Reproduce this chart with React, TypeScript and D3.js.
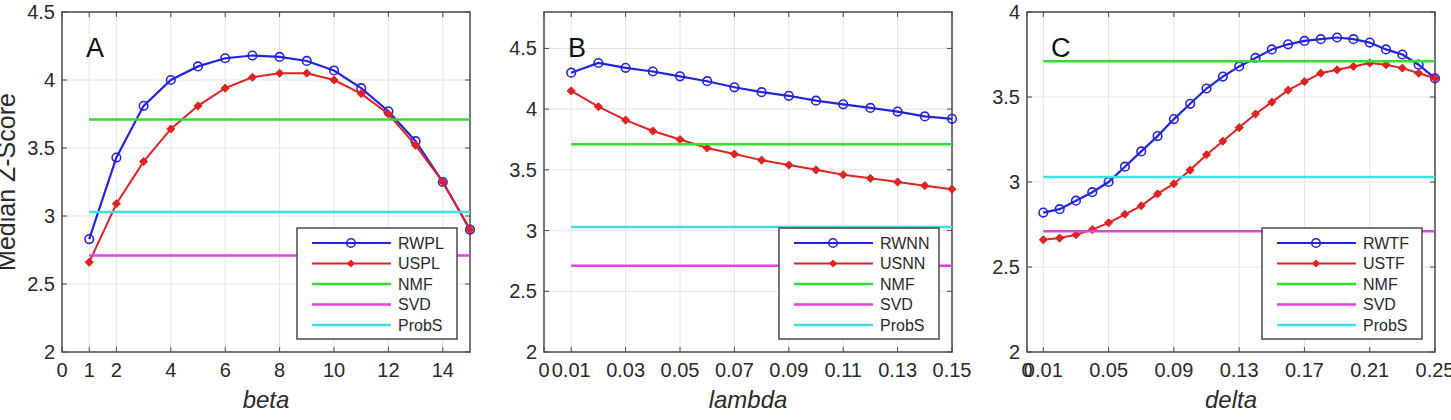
import * as d3 from "d3";

// values
const betaX = [1, 2, 3, 4, 5, 6, 7, 8, 9, 10, 11, 12, 13, 14, 15];
const rwpl = [2.83, 3.43, 3.81, 4.0, 4.1, 4.16, 4.18, 4.17, 4.14, 4.07, 3.94, 3.77, 3.55, 3.25, 2.9];
const uspl = [2.66, 3.09, 3.4, 3.64, 3.81, 3.94, 4.02, 4.05, 4.05, 4.0, 3.9, 3.75, 3.52, 3.25, 2.9];

const lambdaX = [0.01, 0.02, 0.03, 0.04, 0.05, 0.06, 0.07, 0.08, 0.09, 0.1, 0.11, 0.12, 0.13, 0.14, 0.15];
const rwnn = [4.3, 4.38, 4.34, 4.31, 4.27, 4.23, 4.18, 4.14, 4.11, 4.07, 4.04, 4.01, 3.98, 3.94, 3.92];
const usnn = [4.15, 4.02, 3.91, 3.82, 3.75, 3.68, 3.63, 3.58, 3.54, 3.5, 3.46, 3.43, 3.4, 3.37, 3.34];

const deltaX = [0.01, 0.02, 0.03, 0.04, 0.05, 0.06, 0.07, 0.08, 0.09, 0.1, 0.11, 0.12, 0.13,
  0.14, 0.15, 0.16, 0.17, 0.18, 0.19, 0.2, 0.21, 0.22, 0.23, 0.24, 0.25];
const rwtf = [2.82, 2.84, 2.89, 2.94, 3.0, 3.09, 3.18, 3.27, 3.37, 3.46, 3.55, 3.62, 3.68,
  3.73, 3.78, 3.81, 3.83, 3.84, 3.85, 3.84, 3.82, 3.78, 3.75, 3.69, 3.61];
const ustf = [2.66, 2.67, 2.69, 2.72, 2.76, 2.81, 2.86, 2.93, 2.99, 3.07, 3.16, 3.24, 3.32,
  3.4, 3.47, 3.54, 3.59, 3.64, 3.66, 3.68, 3.7, 3.69, 3.67, 3.64, 3.61];

const nmf = 3.71;
const svd = 2.71;
const probs = 3.03;

const xTicksA = [0, 1, 2, 4, 6, 8, 10, 12, 14];
const xTicksB = [0, 0.01, 0.03, 0.05, 0.07, 0.09, 0.11, 0.13, 0.15];
const xTicksC = [0, 0.01, 0.05, 0.09, 0.13, 0.17, 0.21, 0.25];
const yTicksAB = [2, 2.5, 3, 3.5, 4, 4.5];
const yTicksC = [2, 2.5, 3, 3.5, 4];

const panels = [
  { letter: "A", xlabel: "beta", x: betaX, s1: rwpl, s2: uspl, names: ["RWPL", "USPL"],
    xDomain: [0, 15], yDomain: [2, 4.5], xTicks: xTicksA, yTicks: yTicksAB, left: 62, right: 470 },
  { letter: "B", xlabel: "lambda", x: lambdaX, s1: rwnn, s2: usnn, names: ["RWNN", "USNN"],
    xDomain: [0, 0.15], yDomain: [2, 4.8], xTicks: xTicksB, yTicks: yTicksAB, left: 544, right: 952 },
  { letter: "C", xlabel: "delta", x: deltaX, s1: rwtf, s2: ustf, names: ["RWTF", "USTF"],
    xDomain: [0, 0.25], yDomain: [2, 4], xTicks: xTicksC, yTicks: yTicksC, left: 1027, right: 1435 },
];

const top = 12;
const bottom = 352;
const font = "'Liberation Sans', Arial, sans-serif";
const BLUE = "#2424dc";
const RED = "#e02222";
const GREEN = "#2fe02f";
const MAGENTA = "#e044e0";
const CYAN = "#3ee0e0";
const TEXT = "#2a2a2a";
const AXIS = "#4a4a4a";

const diamond = d3.symbol(d3.symbolDiamond2, 42)();

const Panel = ({ p }: { p: typeof panels[number] }) => {
  const x = d3.scaleLinear().domain(p.xDomain).range([p.left, p.right]);
  const y = d3.scaleLinear().domain(p.yDomain).range([bottom, top]);
  const pts1 = p.x.map((v, i) => [x(v), y(p.s1[i])] as [number, number]);
  const pts2 = p.x.map((v, i) => [x(v), y(p.s2[i])] as [number, number]);
  const line = d3.line();
  const x0 = x(p.x[0]);
  const x1 = x(p.x[p.x.length - 1]);
  const refs = [
    { v: nmf, c: GREEN, name: "NMF" },
    { v: svd, c: MAGENTA, name: "SVD" },
    { v: probs, c: CYAN, name: "ProbS" },
  ];
  const lgRight = p.right - 13;
  const lgLeft = lgRight - 160;
  const lgTop = 228;
  const rows = [15, 35.5, 56, 76.5, 97];

  return (
    <g>
      {/* grid */}
      {p.xTicks.filter(t => t !== p.xDomain[0]).map(t => (
        <line key={"gx" + t} x1={x(t)} x2={x(t)} y1={top} y2={bottom} stroke="#e4e4e4" strokeWidth={1} />
      ))}
      {p.yTicks.filter(t => t !== p.yDomain[0]).map(t => (
        <line key={"gy" + t} x1={p.left} x2={p.right} y1={y(t)} y2={y(t)} stroke="#e4e4e4" strokeWidth={1} />
      ))}
      {/* tick marks */}
      {p.xTicks.map(t => (
        <g key={"tx" + t}>
          <line x1={x(t)} x2={x(t)} y1={bottom} y2={bottom - 5} stroke={AXIS} strokeWidth={1} />
          <line x1={x(t)} x2={x(t)} y1={top} y2={top + 5} stroke={AXIS} strokeWidth={1} />
          <text x={x(t)} y={377} textAnchor="middle" fontSize={20} fill={TEXT} fontFamily={font}>{String(t)}</text>
        </g>
      ))}
      {p.yTicks.map(t => (
        <g key={"ty" + t}>
          <line x1={p.left} x2={p.left + 5} y1={y(t)} y2={y(t)} stroke={AXIS} strokeWidth={1} />
          <line x1={p.right} x2={p.right - 5} y1={y(t)} y2={y(t)} stroke={AXIS} strokeWidth={1} />
          <text x={p.left - 7} y={y(t)} dy="0.35em" textAnchor="end" fontSize={20} fill={TEXT} fontFamily={font}>{String(t)}</text>
        </g>
      ))}
      <rect x={p.left} y={top} width={p.right - p.left} height={bottom - top} fill="none" stroke={AXIS} strokeWidth={1.5} />

      {/* series */}
      <path d={line(pts1) ?? ""} fill="none" stroke={BLUE} strokeWidth={2.2} />
      {pts1.map((d, i) => (
        <circle key={"c" + i} cx={d[0]} cy={d[1]} r={4.3} fill="none" stroke={BLUE} strokeWidth={1.6} />
      ))}
      <path d={line(pts2) ?? ""} fill="none" stroke={RED} strokeWidth={2} />
      {pts2.map((d, i) => (
        <path key={"d" + i} d={diamond ?? ""} transform={`translate(${d[0]},${d[1]})`} fill={RED} stroke={RED} strokeWidth={1} />
      ))}
      {refs.map(r => (
        <line key={r.name} x1={x0} x2={x1} y1={y(r.v)} y2={y(r.v)} stroke={r.c} strokeWidth={2.5} />
      ))}

      <text x={p.left + 24} y={57} fontSize={27} fill="#111" fontFamily={font}>{p.letter}</text>
      <text x={(p.left + p.right) / 2} y={408} textAnchor="middle" fontSize={24} fontStyle="italic" fill={TEXT} fontFamily={font}>{p.xlabel}</text>

      {/* legend */}
      <rect x={lgLeft} y={lgTop} width={160} height={111} fill="white" stroke={AXIS} strokeWidth={1.5} />
      {[
        { name: p.names[0], c: BLUE, m: "circle" },
        { name: p.names[1], c: RED, m: "diamond" },
        ...refs.map(r => ({ name: r.name, c: r.c, m: "" })),
      ].map((e, i) => {
        const yy = lgTop + rows[i];
        return (
          <g key={e.name}>
            <line x1={lgLeft + 15} x2={lgLeft + 94} y1={yy} y2={yy} stroke={e.c} strokeWidth={e.m ? 2.2 : 2.5} />
            {e.m === "circle" && <circle cx={lgLeft + 54} cy={yy} r={4.3} fill="none" stroke={e.c} strokeWidth={1.6} />}
            {e.m === "diamond" && <path d={diamond ?? ""} transform={`translate(${lgLeft + 54},${yy})`} fill={e.c} />}
            <text x={lgLeft + 101} y={yy} dy="0.35em" fontSize={16} fill={TEXT} fontFamily={font}>{e.name}</text>
          </g>
        );
      })}
    </g>
  );
};

const App = () => {
  return (
    <svg width={1451} height={420} style={{ position: "absolute", left: 0, top: 0, background: "white" }}>
      <rect width={1451} height={420} fill="white" />
      <text transform={`translate(15,${(top + bottom) / 2}) rotate(-90)`} textAnchor="middle" fontSize={25} fill={TEXT} fontFamily={font}>Median Z-Score</text>
      {panels.map(p => <Panel key={p.letter} p={p} />)}
    </svg>
  );
};

export default App;
